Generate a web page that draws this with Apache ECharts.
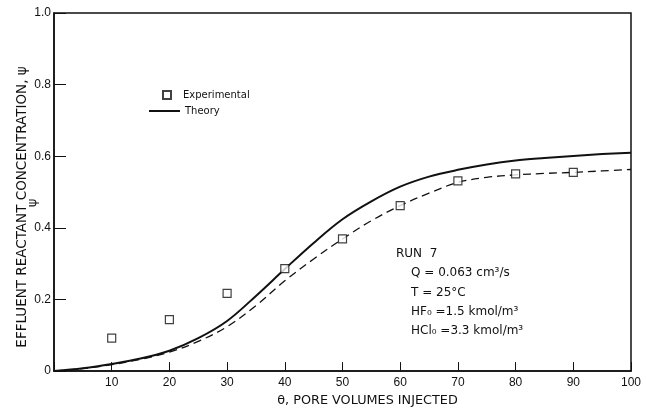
<!DOCTYPE html>
<html>
<head>
<meta charset="utf-8">
<script src="https://cdn.jsdelivr.net/npm/echarts@6/dist/echarts.min.js"></script>
<style>
  html, body { margin: 0; padding: 0; background: #fff; }
  #chart { width: 646px; height: 412px; }
</style>
</head>
<body>
<div id="chart"></div>
<script>
// Pore volumes injected (theta) for the measured points
const expTheta = [10, 20, 30, 40, 50, 60, 70, 80, 90];
// Measured effluent reactant concentration, psi
const expPsi = [0.092, 0.144, 0.217, 0.286, 0.369, 0.462, 0.531, 0.551, 0.555];

// Theta grid for the model curves
const curveTheta = [0, 5, 10, 15, 20, 25, 30, 35, 40, 45, 50, 55, 60, 65, 70, 75, 80, 85, 90, 95, 100];
// Theory (solid curve)
const theoryPsi = [0, 0.008, 0.02, 0.035, 0.057, 0.092, 0.14, 0.21, 0.285, 0.358, 0.424, 0.474, 0.515, 0.543, 0.562, 0.577, 0.588, 0.595, 0.601, 0.606, 0.61];
// Dashed curve
const dashedPsi = [0, 0.007, 0.018, 0.033, 0.053, 0.083, 0.124, 0.183, 0.252, 0.313, 0.369, 0.42, 0.462, 0.497, 0.527, 0.541, 0.548, 0.552, 0.555, 0.559, 0.563];

// Tick labels
const xTickLabels = ['', '10', '20', '30', '40', '50', '60', '70', '80', '90', '100'];
const yTickLabels = ['0', '0.2', '0.4', '0.6', '0.8', '1.0'];

const NUM_FONT = '"Liberation Sans", Arial, sans-serif';
const TXT_FONT = '"DejaVu Sans", sans-serif';
const INK = '#111';

const pairs = (xs, ys) => xs.map((x, i) => [x, ys[i]]);

const chart = echarts.init(document.getElementById('chart'), null, { renderer: 'canvas' });

chart.setOption({
  animation: false,
  backgroundColor: '#fff',
  grid: {
    left: 54, right: 15, top: 13, bottom: 38,
    show: true, borderColor: INK, borderWidth: 1.5, backgroundColor: 'transparent'
  },
  xAxis: {
    type: 'value', min: 0, max: 100, interval: 10,
    name: 'θ, PORE VOLUMES INJECTED',
    nameLocation: 'middle', nameGap: 22,
    nameTextStyle: { fontFamily: TXT_FONT, fontSize: 12.8, color: INK, padding: [0, 0, 0, 50] },
    axisLine: { show: true, lineStyle: { color: INK, width: 1.5 } },
    axisTick: { show: true, inside: true, length: 9, lineStyle: { color: INK, width: 1 } },
    axisLabel: {
      fontFamily: NUM_FONT, fontSize: 12, color: INK, margin: 6,
      formatter: v => xTickLabels[Math.round(v / 10)]
    },
    splitLine: { show: false }
  },
  yAxis: {
    type: 'value', min: 0, max: 1, interval: 0.2,
    axisLine: { show: true, lineStyle: { color: INK, width: 1.5 } },
    axisTick: { show: true, inside: true, length: 12, lineStyle: { color: INK, width: 1 } },
    axisLabel: {
      fontFamily: NUM_FONT, fontSize: 12, color: INK, margin: 3,
      formatter: v => yTickLabels[Math.round(v / 0.2)]
    },
    splitLine: { show: false }
  },
  legend: [
    {
      data: ['Experimental'],
      left: 157, top: 85, orient: 'vertical',
      itemWidth: 8, itemHeight: 8,
      textStyle: { fontFamily: TXT_FONT, fontSize: 10, color: INK, padding: [0, 0, 0, 7] }
    },
    {
      data: [{ name: 'Theory', icon: 'rect' }],
      left: 144, top: 101, orient: 'vertical',
      itemWidth: 31, itemHeight: 2,
      itemStyle: { color: INK },
      textStyle: { fontFamily: TXT_FONT, fontSize: 10, color: INK }
    }
  ],
  series: [
    {
      name: 'Theory', type: 'line', data: pairs(curveTheta, theoryPsi),
      smooth: 0.35, showSymbol: false, symbol: 'none',
      lineStyle: { color: INK, width: 2 }, itemStyle: { color: INK }, z: 3
    },
    {
      name: 'Dashed curve', type: 'line', data: pairs(curveTheta, dashedPsi),
      smooth: 0.35, showSymbol: false, symbol: 'none',
      lineStyle: { color: INK, width: 1.3, type: [8, 5] }, z: 2
    },
    {
      name: 'Experimental', type: 'scatter', data: pairs(expTheta, expPsi),
      symbol: 'rect', symbolSize: 8,
      itemStyle: { color: '#fff', borderColor: INK, borderWidth: 1.2 }, z: 5
    }
  ],
  graphic: [
    {
      type: 'text', x: 22, y: 207, rotation: Math.PI / 2,
      style: {
        text: 'EFFLUENT REACTANT CONCENTRATION, ψ',
        font: '13.5px ' + TXT_FONT, fill: INK, align: 'center', verticalAlign: 'middle'
      }
    },
    {
      type: 'text', x: 33, y: 203, rotation: Math.PI / 2,
      style: { text: 'ψ', font: '13px ' + TXT_FONT, fill: INK, align: 'center', verticalAlign: 'middle' }
    },
    {
      type: 'text', x: 396, y: 254,
      style: { text: 'RUN  7', font: '12px ' + TXT_FONT, fill: INK, verticalAlign: 'middle' }
    },
    {
      type: 'text', x: 411, y: 273,
      style: { text: 'Q = 0.063 cm³/s', font: '12px ' + TXT_FONT, fill: INK, verticalAlign: 'middle' }
    },
    {
      type: 'text', x: 411, y: 293,
      style: { text: 'T = 25°C', font: '12px ' + TXT_FONT, fill: INK, verticalAlign: 'middle' }
    },
    {
      type: 'text', x: 411, y: 312,
      style: { text: 'HF₀ =1.5 kmol/m³', font: '12px ' + TXT_FONT, fill: INK, verticalAlign: 'middle' }
    },
    {
      type: 'text', x: 411, y: 331,
      style: { text: 'HCl₀ =3.3 kmol/m³', font: '12px ' + TXT_FONT, fill: INK, verticalAlign: 'middle' }
    }
  ]
});
</script>
</body>
</html>
